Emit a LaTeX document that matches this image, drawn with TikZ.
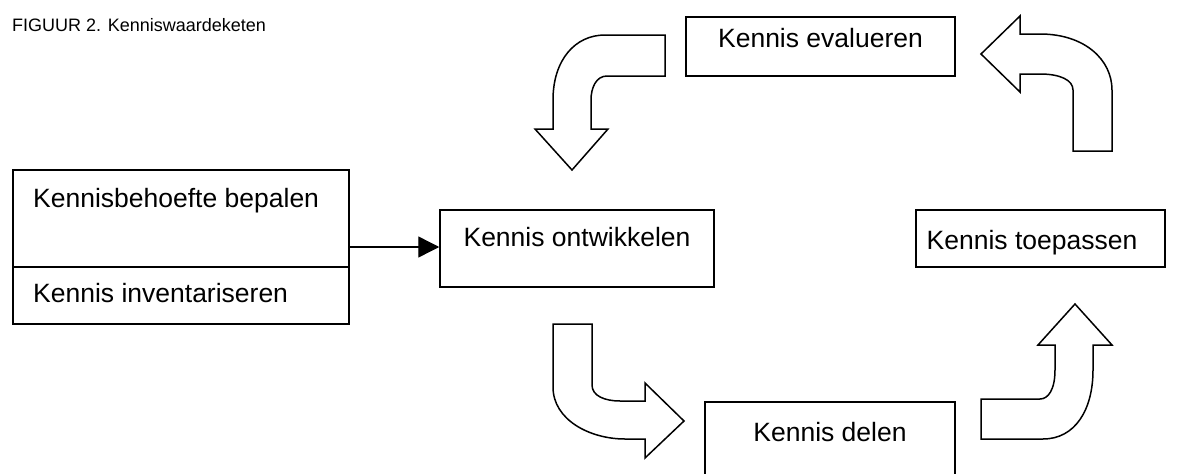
\documentclass[tikz,border=0pt]{standalone}
\usepackage{fontspec}
\setmainfont{Liberation Sans}
\usetikzlibrary{arrows.meta}
\tikzset{
  box/.style={draw, line width=1.5pt, rectangle, inner sep=0pt},
  lbl/.style={font=\fontsize{26.5}{30}\selectfont, inner sep=0pt},
  conn/.style={line width=1.4pt, -{Triangle[length=21pt,width=21pt]}},
  bent/.style={draw, line width=1.5pt, line join=miter, fill=white},
}
\begin{document}
\begin{tikzpicture}[x=1pt,y=-1pt]
\useasboundingbox (0,0) rectangle (1200,474);
\clip (0,0) rectangle (1200,474);

% caption
\node[font=\fontsize{18}{22}\selectfont, inner sep=0pt, anchor=base west] (title) at (12,31) {FIGUUR 2. Kenniswaardeketen};

% process boxes
\node[box, minimum width=336pt, minimum height=154pt] (need) at (181,247) {};
\draw[line width=1.5pt] (need.west |- 0,267) coordinate (split) -- (need.east |- 0,267);
\node[lbl, anchor=base west] (needtxt) at (33,207) {Kennisbehoefte bepalen};
\node[lbl, anchor=base west] (invtxt) at (33,302) {Kennis inventariseren};

\node[box, minimum width=274pt, minimum height=77pt] (dev) at (577,248.5) {};
\node[lbl, anchor=base] (devtxt) at (577,246) {Kennis ontwikkelen};

\node[box, minimum width=269pt, minimum height=59pt] (eval) at (820.5,46.5) {};
\node[lbl, anchor=base] (evaltxt) at (820.5,47) {Kennis evalueren};

\node[box, minimum width=249pt, minimum height=57pt] (apply) at (1040.5,238.5) {};
\node[lbl, anchor=base] (applytxt) at (1032,249) {Kennis toepassen};

\node[box, minimum width=250pt, minimum height=80pt] (share) at (830,442) {};
\node[lbl, anchor=base] (sharetxt) at (830,441) {Kennis delen};

% input arrow
\draw[conn] (need.east) -- (need.east -| dev.west);

% bent block arrows of the cycle
% evaluate -> develop (down)
\path[bent] (665,35) -- (605,35) .. controls (575,35) and (553,60) .. (553,100)
  -- (553,129) -- (535,129) -- (572,170) -- (608,129) -- (591,129) -- (591,100)
  .. controls (591,88) and (596,76) .. (607,76) -- (665,76) -- cycle;
% apply -> evaluate (left)
\path[bent] (1073,151) -- (1073,90) .. controls (1073,80) and (1060,74) .. (1040,74)
  -- (1020,74) -- (1020,92) -- (981,54) -- (1020,16) -- (1020,34) -- (1040,34)
  .. controls (1085,34) and (1112,60) .. (1112,90) -- (1112,151) -- cycle;
% develop -> share (right)
\path[bent] (553,324) -- (553,387) .. controls (553,420) and (590,439) .. (625,439)
  -- (645,439) -- (645,458) -- (684,421) -- (645,383) -- (645,401) -- (620,401)
  .. controls (605,401) and (592,396) .. (592,385) -- (592,324) -- cycle;
% share -> apply (up)
\path[bent] (981,439) -- (1043,439) .. controls (1075,439) and (1093,410) .. (1093,370)
  -- (1093,345) -- (1112,345) -- (1075,304) -- (1038,345) -- (1055,345) -- (1055,370)
  .. controls (1055,390) and (1048,399) .. (1040,399) -- (981,399) -- cycle;
\end{tikzpicture}
\end{document}
